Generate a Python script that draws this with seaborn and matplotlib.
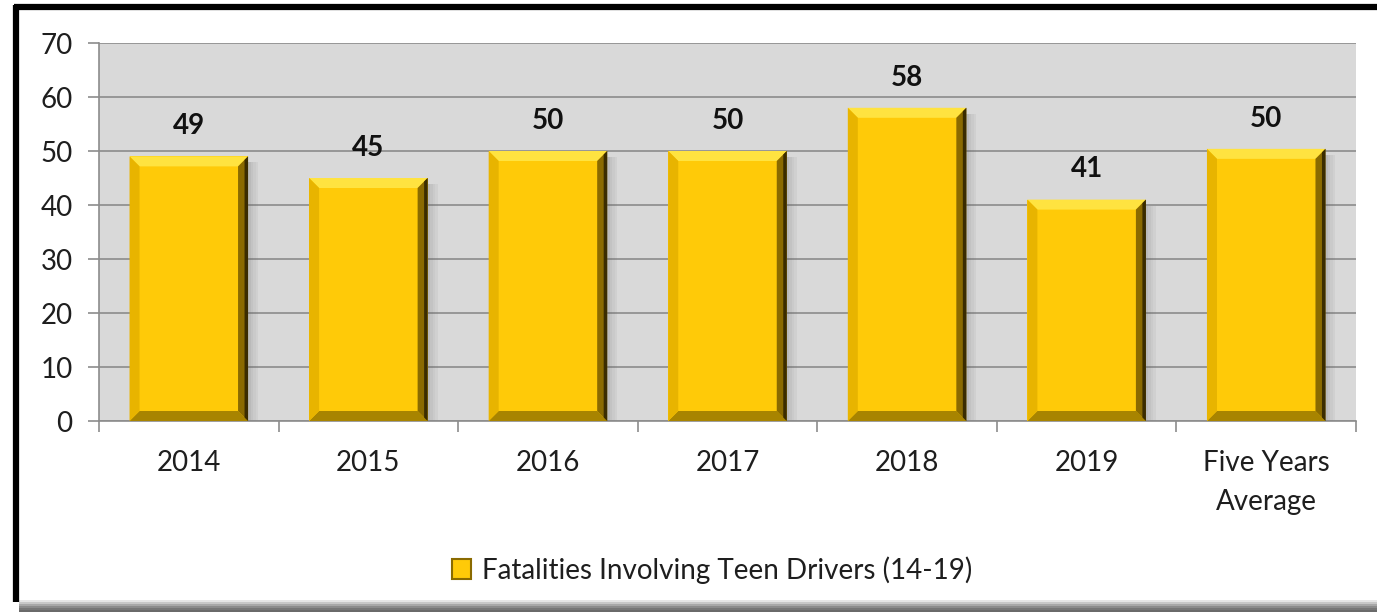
import numpy as np
import pandas as pd
import matplotlib.pyplot as plt
import seaborn as sns
from matplotlib.patches import Polygon, Rectangle
from matplotlib.lines import Line2D

# Données
categories = ['2014', '2015', '2016', '2017', '2018', '2019', 'Five Years\nAverage']
fatalities = [49, 45, 50, 50, 58, 41, 50.4]
bar_labels = ['49', '45', '50', '50', '58', '41', '50']
legend_label = 'Fatalities Involving Teen Drivers (14-19)'
yticks = [0, 10, 20, 30, 40, 50, 60, 70]

df = pd.DataFrame({'Annee': categories, 'Fatalities': fatalities})

sns.set_style('white')
plt.rcParams['font.family'] = ['Lato', 'DejaVu Sans']

W, H = 1377, 614
fig = plt.figure(figsize=(W / 100, H / 100), dpi=100)
ax = fig.add_axes([99 / W, 1 - 421 / H, (1356 - 99) / W, (421 - 43) / H])
ax.set_facecolor('#D9D9D9')

gold = '#FFCA08'
sns.barplot(data=df, x='Annee', y='Fatalities', color=gold, saturation=1,
            width=0.66, ax=ax, zorder=3, edgecolor='none')

ax.set_xlim(-0.5, len(categories) - 0.5)
ax.set_ylim(0, 70)
ax.set_yticks(yticks)
ax.set_xlabel('')
ax.set_ylabel('')
ax.yaxis.grid(True, color='#8C8C8C', linewidth=1.2, zorder=0)
ax.set_axisbelow(True)

for s in ['top', 'right']:
    ax.spines[s].set_visible(False)
for s in ['left', 'bottom']:
    ax.spines[s].set_color('#8C8C8C')
    ax.spines[s].set_linewidth(1.2)

ax.tick_params(axis='y', length=8, width=1.2, color='#8C8C8C', pad=11,
               labelsize=20, labelcolor='#1E1E1E', left=True)
ax.set_xticks(np.arange(-0.5, len(categories) + 0.5, 1.0), minor=True)
ax.tick_params(axis='x', which='minor', length=8, width=1.2, color='#8C8C8C', bottom=True)
ax.tick_params(axis='x', which='major', length=0, pad=21, labelsize=20, labelcolor='#1E1E1E')
for t in ax.get_xticklabels():
    t.set_linespacing(1.6)

# Effet biseauté (calculé depuis les barres)
px_x = ax.transData.transform((1, 0))[0] - ax.transData.transform((0, 0))[0]
px_y = ax.transData.transform((0, 1))[1] - ax.transData.transform((0, 0))[1]
bev = 10
dx, dy = bev / px_x, bev / px_y
for p, lab in zip(list(ax.patches), bar_labels):
    x0, w, top = p.get_x(), p.get_width(), p.get_height()
    x1 = x0 + w
    # ombre portée
    for k, a in enumerate([0.25, 0.18, 0.12, 0.07]):
        ax.add_patch(Rectangle((x1 + k * 2.5 / px_x, 0), 2.5 / px_x, top - dy * 0.6,
                               facecolor='#606060', alpha=a, edgecolor='none', zorder=2))
    ax.add_patch(Polygon([(x0, top), (x1, top), (x1 - dx, top - dy), (x0 + dx, top - dy)],
                         closed=True, facecolor='#FFE340', edgecolor='none', zorder=4))
    ax.add_patch(Polygon([(x0, 0), (x1, 0), (x1 - dx, dy), (x0 + dx, dy)],
                         closed=True, facecolor='#A88400', edgecolor='none', zorder=4))
    ax.add_patch(Polygon([(x0, 0), (x0 + dx, dy), (x0 + dx, top - dy), (x0, top)],
                         closed=True, facecolor='#E8B400', edgecolor='none', zorder=4))
    ax.add_patch(Polygon([(x1, 0), (x1 - dx, dy), (x1 - dx, top - dy), (x1, top)],
                         closed=True, facecolor='#8A6A00', edgecolor='none', zorder=4))
    ax.add_patch(Polygon([(x1, 0), (x1 - dx * 0.35, dy * 0.35), (x1 - dx * 0.35, top - dy * 0.35), (x1, top)],
                         closed=True, facecolor='#3A2C00', edgecolor='none', zorder=4))
    ax.text(x0 + w / 2, top + 5.6, lab, ha='center', va='center',
            fontsize=20, fontweight='bold', color='#111111', zorder=5)

# Légende
handle = Rectangle((0, 0), 1, 1, facecolor=gold, edgecolor='#8A6A00', linewidth=1.5)
fig.legend([handle], [legend_label], loc='center', bbox_to_anchor=(712 / W, 1 - 570 / H),
           frameon=False, fontsize=20, handlelength=0.7, handleheight=0.7,
           handletextpad=0.4, labelcolor='#1E1E1E')

# Cadre
fig.add_artist(Line2D([16 / W, 16 / W], [1 - 5 / H, 1 - 602 / H], color='black',
                      linewidth=4.5, solid_capstyle='butt'))
fig.add_artist(Line2D([14 / W, 1], [1 - 7 / H, 1 - 7 / H], color='black',
                      linewidth=4.5, solid_capstyle='butt'))
for i, c in enumerate(['#E6E6E6', '#C8C8C8', '#A8A8A8', '#8C8C8C', '#777777', '#6A6A6A']):
    fig.add_artist(Rectangle((19 / W, 1 - (602 + i * 2) / H), 1, 2 / H,
                             facecolor=c, edgecolor='none', transform=fig.transFigure))

plt.savefig('out.png', dpi=100)
plt.close()
